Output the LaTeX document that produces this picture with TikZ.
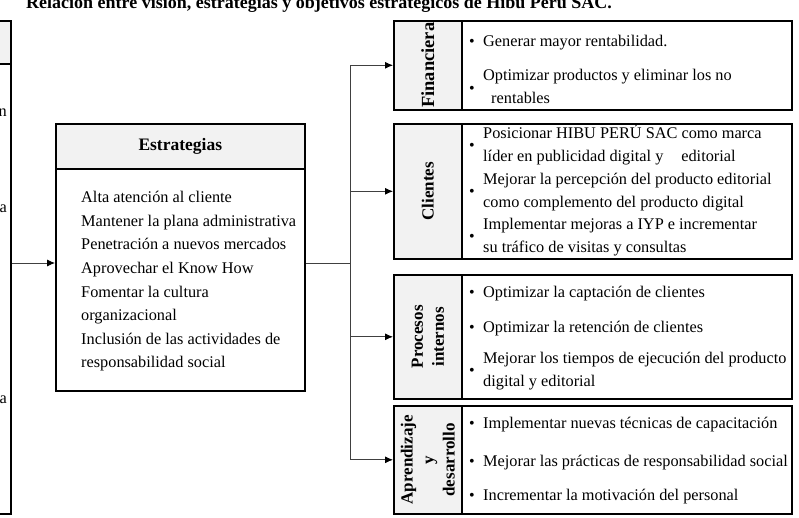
\documentclass[tikz,border=0pt]{standalone}
\usepackage{fontspec}
\setmainfont{Liberation Serif}
\usetikzlibrary{arrows.meta}
\definecolor{hdr}{HTML}{F2F2F2}
\definecolor{cn}{HTML}{404040}
\begin{document}
\begin{tikzpicture}[x=1pt,y=-1pt,
  box/.style={draw=black,line width=1.6pt,inner sep=0pt,anchor=north west},
  lab/.style={rotate=90,inner sep=0pt,align=center,font=\bfseries\fontsize{17}{21}\selectfont},
  itm/.style={anchor=base west,inner sep=0pt,font=\fontsize{16.3}{19}\selectfont},
  bul/.style={anchor=base,inner sep=0pt,font=\fontsize{16}{19}\selectfont},
  con/.style={draw=cn,line width=0.8pt},
  arr/.style={con,-{Latex[length=8pt,width=7pt,fill=black,color=black]}}
]
\useasboundingbox (0,0) rectangle (799,518);
% title
\node[anchor=base west,inner sep=0pt,font=\bfseries\fontsize{18}{21}\selectfont] (title) at (26,9) {Relación entre visión, estrategias y objetivos estratégicos de Hibu Perú SAC.};
% vision box (cut off)
\node[box,fill=hdr,minimum width=30,minimum height=43] (vh) at (-20,20) {};
\node[box,fill=white,minimum width=30,minimum height=450] (vb) at (-20,63) {};
\node[itm,anchor=base east] (v1) at (7,117) {n};
\node[itm,anchor=base east] (v2) at (7,213) {a};
\node[itm,anchor=base east] (v3) at (7,403) {a};
% estrategias
\node[box,fill=hdr,minimum width=249,minimum height=45] (eh) at (55,123) {};
\node[box,fill=white,minimum width=249,minimum height=222] (eb) at (55,168) {};
\node[inner sep=0pt,font=\bfseries\fontsize{17.5}{20}\selectfont] (et) at (eh.center) {Estrategias};
\foreach \t [count=\i] in {Alta atención al cliente,Mantener la plana administrativa,Penetración a nuevos mercados,Aprovechar el Know How,Fomentar la cultura,organizacional,Inclusión de las actividades de,responsabilidad social}
  \node[itm] (s\i) at (81,{203+(\i-1)*23.5}) {\t};
% Financiera
\node[box,fill=hdr,minimum width=68,minimum height=89] (finl) at (393,20) {};
\node[box,minimum width=398,minimum height=89] (fin) at (393,20) {};
\node[lab,font=\bfseries\fontsize{18.5}{21}\selectfont] (fint) at (finl.center) {Financiera};
\node[bul] (fb1) at (472,47) {\textbullet};
\node[itm] (f1) at (483,47) {Generar mayor rentabilidad.};
\node[bul] (fb2) at (472,94) {\textbullet};
\node[itm] (f2) at (483,81) {Optimizar productos y eliminar los no};
\node[itm] (f3) at (491,104) {rentables};
% Clientes
\node[box,fill=hdr,minimum width=68,minimum height=135] (clil) at (393,123) {};
\node[box,minimum width=398,minimum height=135] (cli) at (393,123) {};
\node[lab] (clit) at (clil.center) {Clientes};
\node[bul] (cb1) at (472,151) {\textbullet};
\node[itm] (c1) at (483,139) {Posicionar HIBU PERÚ SAC como marca};
\node[itm] (c2) at (483,162) {líder en publicidad digital y\hspace{1.1em}editorial};
\node[bul] (cb2) at (472,197) {\textbullet};
\node[itm] (c3) at (483,185) {Mejorar la percepción del producto editorial};
\node[itm] (c4) at (483,208) {como complemento del producto digital};
\node[bul] (cb3) at (472,242) {\textbullet};
\node[itm] (c5) at (483,230) {Implementar mejoras a IYP e incrementar};
\node[itm] (c6) at (483,253) {su tráfico de visitas y consultas};
% Procesos internos
\node[box,fill=hdr,minimum width=68,minimum height=124] (prol) at (393,274) {};
\node[box,minimum width=398,minimum height=124] (pro) at (393,274) {};
\node[lab] (prot) at (prol.center) {Procesos\\internos};
\node[bul] (pb1) at (472,297) {\textbullet};
\node[itm] (p1) at (483,297) {Optimizar la captación de clientes};
\node[bul] (pb2) at (472,332) {\textbullet};
\node[itm] (p2) at (483,332) {Optimizar la retención de clientes};
\node[bul] (pb3) at (472,375) {\textbullet};
\node[itm] (p3) at (483,363) {Mejorar los tiempos de ejecución del producto};
\node[itm] (p4) at (483,386) {digital y editorial};
% Aprendizaje
\node[box,fill=hdr,minimum width=68,minimum height=108] (aprl) at (393,405) {};
\node[box,minimum width=398,minimum height=108] (apr) at (393,405) {};
\node[lab] (aprt) at (aprl.center) {Aprendizaje\\y\\desarrollo};
\node[bul] (ab1) at (472,428) {\textbullet};
\node[itm] (a1) at (483,428) {Implementar nuevas técnicas de capacitación};
\node[bul] (ab2) at (472,466) {\textbullet};
\node[itm] (a2) at (483,466) {Mejorar las prácticas de responsabilidad social};
\node[bul] (ab3) at (472,500) {\textbullet};
\node[itm] (a3) at (483,500) {Incrementar la motivación del personal};
% connectors
\coordinate (j) at (350,263);
\draw[arr] (vb.east |- j) -- (eb.west |- j);
\draw[con] (eb.east |- j) -- (j);
\draw[arr] (j) |- (fin.west);
\draw[arr] (j) |- (cli.west);
\draw[arr] (j) |- (pro.west);
\draw[arr] (j) |- (apr.west);
\end{tikzpicture}
\end{document}
